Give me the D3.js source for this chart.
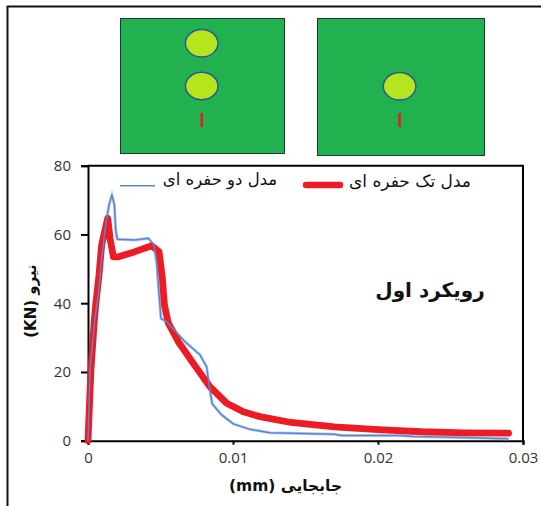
<!DOCTYPE html>
<html><head><meta charset="utf-8">
<script src="https://cdn.jsdelivr.net/npm/d3@7"></script>
<style>html,body{margin:0;padding:0;background:#fff}svg{display:block}</style>
</head><body><svg id="c" width="541" height="506"></svg>
<script>
const xTicks=[0,0.01,0.02,0.03];
const yTicks=[0,20,40,60,80];
const twoHoleX=[0,0.00014,0.00045,0.00071,0.00094,0.00122,0.00145,0.00165,0.00182,0.00191,0.00202,0.00324,0.00416,0.00455,0.00473,0.00485,0.00503,0.00542,0.00669,0.00772,0.00818,0.00837,0.00857,0.00922,0.01002,0.01117,0.01255,0.017,0.0175,0.0215,0.0225,0.025,0.029];
const twoHoleY=[0,20.5,34.6,42.4,53,62.7,68.6,71.5,68.6,61.3,58.6,58.4,58.9,56.9,52,45.3,35.6,34.6,28.8,25,21.5,15.7,10.7,7.5,4.9,3.3,2.3,1.9,1.5,1.5,1.2,1,0.6];
const oneHoleX=[0,0.0002,0.00043,0.00053,0.00076,0.00094,0.00136,0.00152,0.00175,0.0021,0.00324,0.0044,0.0049,0.00513,0.00527,0.00554,0.00623,0.00726,0.00841,0.00957,0.01071,0.01186,0.014,0.017,0.02,0.023,0.026,0.029];
const oneHoleY=[0,20.5,34.6,39.5,48.2,56.9,64.7,58.9,53.5,53.5,55,56.7,55,47.2,39.5,34.2,28.8,22.5,15.7,10.9,8.4,7,5.3,4,3.2,2.6,2.3,2.2];
const legendTwo="مدل دو حفره ای";
const legendOne="مدل تک حفره ای";
const titleText="رویکرد اول";
const xLabel="جابجایی (mm)";
const yLabel="(KN) نیرو";

const svg=d3.select("#c");
const font="'DejaVu Sans'";
const tickFont="'Open Sans'";
svg.append("path").attr("d","M7.5,506V6.5H541").attr("fill","none").attr("stroke","#111").attr("stroke-width",2);
function panel(x0,x1,y0,y1,cx,cys){
  svg.append("rect").attr("x",x0).attr("y",y0).attr("width",x1-x0).attr("height",y1-y0).attr("fill","#22b14f").attr("stroke","#1d3b2a").attr("stroke-width",1);
  cys.forEach(cy=>svg.append("ellipse").attr("cx",cx).attr("cy",cy).attr("rx",16.3).attr("ry",13.7).attr("fill","#b5e61d").attr("stroke","#2a5a94").attr("stroke-width",1.5));
  svg.append("rect").attr("x",cx-1.3).attr("y",113).attr("width",2.6).attr("height",14).attr("fill","#ed1c24");
}
panel(120.5,284.5,18.5,153.5,201.7,[43.3,86]);
panel(317.5,484.5,18.5,155.5,399.6,[86.3]);

const x=d3.scaleLinear().domain([0,0.03]).range([88,523]);
const y=d3.scaleLinear().domain([0,80]).range([440.7,165.7]);
svg.append("path").attr("d",`M${x(0)},${y(80)}H${x(0.03)}V${y(0)}`).attr("fill","none").attr("stroke","#000").attr("stroke-width",2);
const ax=svg.append("g").attr("transform",`translate(0,${y(0)})`).call(d3.axisBottom(x).tickValues(xTicks).tickFormat(d=>d===0?"0":d3.format(".2f")(d)).tickSize(4).tickPadding(8));
const ay=svg.append("g").attr("transform",`translate(${x(0)},0)`).call(d3.axisLeft(y).tickValues(yTicks).tickSize(7).tickPadding(10));
[ax,ay].forEach(g=>{g.selectAll("path,line").attr("stroke","#000").attr("stroke-width",2);
  g.selectAll("text").attr("fill","#333").style("font-family",tickFont).style("font-size","15px");});

const line=d3.line().x(d=>x(d[0])).y(d=>y(d[1])).curve(d3.curveLinear);
const red=oneHoleX.map((v,i)=>[v,oneHoleY[i]]);
const blue=twoHoleX.map((v,i)=>[v,twoHoleY[i]]);
svg.append("path").attr("d",line(blue)).attr("fill","none").attr("stroke","#b8cdec").attr("stroke-width",3);
svg.append("path").attr("d",line(red)).attr("fill","none").attr("stroke","#ed1c24").attr("stroke-width",6.8).attr("stroke-linecap","round").attr("stroke-linejoin","round");
svg.append("path").attr("d",line(blue)).attr("fill","none").attr("stroke","#5b86cf").attr("stroke-width",1.5).attr("stroke-linejoin","round");

svg.append("line").attr("x1",120).attr("x2",155).attr("y1",185.7).attr("y2",185.7).attr("stroke","#5b86cf").attr("stroke-width",1.5);
svg.append("line").attr("x1",306).attr("x2",340).attr("y1",185).attr("y2",185).attr("stroke","#ed1c24").attr("stroke-width",6.5).attr("stroke-linecap","round");
function label(t,px,py,size,weight,anchor){return svg.append("text").attr("x",px).attr("y",py).attr("text-anchor",anchor||"middle").style("font-family",font).style("font-size",size+"px").style("font-weight",weight||"normal").attr("fill","#111").text(t);}
label(legendTwo,220,185,16.5).attr("direction","rtl");
label(legendOne,410,187,17).attr("direction","rtl");
label(titleText,430,297,20,"bold").attr("direction","rtl");
label(xLabel,285.5,491,15.5,"bold").attr("direction","rtl");
svg.append("text").attr("transform","translate(36,301) rotate(-90)").attr("text-anchor","middle").style("font-family",font).style("font-size","15px").style("font-weight","bold").attr("fill","#111").attr("direction","ltr").text(yLabel);
</script></body></html>
